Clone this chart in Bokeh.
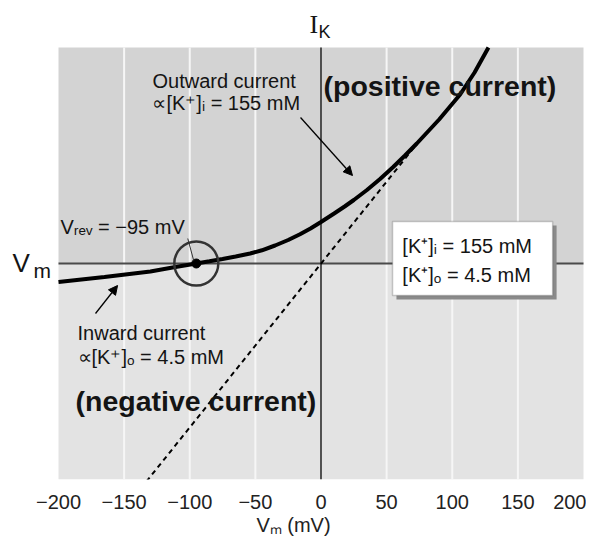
from bokeh.plotting import figure
from bokeh.models import Label, BoxAnnotation, Arrow, NormalHead, FixedTicker
from bokeh.embed import file_html
from bokeh.resources import INLINE

# ---- data ----
curve_v = [-200, -165, -130, -112, -95, -85, -75, -65, -54, -45, -35, -25, -16, -8, 0, 10, 18, 25,
           35, 45, 55, 64, 73, 90, 106, 117, 127.6]
curve_i = [-18.5, -13.5, -8, -3.8, 0, 2.2, 4.5, 7, 10, 13.2, 18, 23.5, 29.3, 35, 41.5, 50, 57, 63.5,
           73.5, 84.5, 96.5, 108, 120, 144, 169, 191, 216]
dashed_v = [-133, 73]
dashed_i = [-218, 119.5]
v_rev = -95
x_ticks = [-200, -150, -100, -50, 0, 50, 100, 150, 200]
x_tick_labels = ["\u2212200", "\u2212150", "\u2212100", "\u221250", "0", "50", "100", "150", "200"]
grid_ticks = [-150, -100, -50, 50, 100, 150]
v_lim = [-200, 200]      # extent of the shaded plot region (mV)
i_lim = [-216, 216]      # extent of the shaded plot region (current, arbitrary units)

FONT = "Liberation Sans"
TXT = "#141414"

p = figure(frame_width=586, frame_height=479, x_range=(-244.19, 202.29), y_range=(-216, 263),
           output_backend="svg", toolbar_location=None, y_axis_location=None,
           min_border_left=0, min_border_right=0, min_border_top=0, min_border_bottom=10)
p.outline_line_color = None
p.background_fill_color = "white"
p.border_fill_color = "white"
p.xgrid.visible = False
p.ygrid.visible = False

# shaded halves
p.add_layout(BoxAnnotation(left=v_lim[0], right=v_lim[1], bottom=0, top=i_lim[1],
                           fill_color="#d3d3d3", fill_alpha=1, line_color=None, level="image"))
p.add_layout(BoxAnnotation(left=v_lim[0], right=v_lim[1], bottom=i_lim[0], top=0,
                           fill_color="#e3e3e3", fill_alpha=1, line_color=None, level="image"))

# white vertical grid lines
p.segment(x0=grid_ticks, y0=[i_lim[0]] * len(grid_ticks), x1=grid_ticks, y1=[i_lim[1]] * len(grid_ticks),
          line_color="#f6f6f6", line_width=2)

# x axis
ax = p.xaxis[0]
ax.ticker = FixedTicker(ticks=x_ticks)
ax.major_label_overrides = {t: l for t, l in zip(x_ticks, x_tick_labels)}
ax.axis_line_color = None
ax.major_tick_line_color = None
ax.minor_tick_line_color = None
ax.major_label_text_font = FONT
ax.major_label_text_font_size = "20px"
ax.major_label_text_color = "#222222"
ax.major_label_standoff = 9
ax.axis_label = "V\u2098 (mV)"
ax.axis_label_text_font = FONT
ax.axis_label_text_font_size = "20px"
ax.axis_label_text_font_style = "normal"
ax.axis_label_text_color = "#222222"
ax.axis_label_standoff = 2

# axis lines (Vm axis and I_K axis)
p.segment(x0=[v_lim[0]], y0=[0], x1=[v_lim[1]], y1=[0], line_color="#4a4a4a", line_width=2)
p.segment(x0=[0], y0=[i_lim[0]], x1=[0], y1=[i_lim[1]], line_color="#222222", line_width=1.5)

# curves
p.line(dashed_v, dashed_i, line_color="black", line_width=2, line_dash="5 4")
p.line(curve_v, curve_i, line_color="black", line_width=4)

# reversal marker
p.scatter([v_rev], [0], size=44, marker="circle", fill_color=None, line_color="#333333", line_width=2.5)
p.scatter([v_rev], [0], size=9, marker="circle", fill_color="black", line_color="black")
p.segment(x0=[-101.5], y0=[25], x1=[-97], y1=[3], line_color="#333333", line_width=1)

# arrows
p.add_layout(Arrow(x_start=-15.6, y_start=146, x_end=24, y_end=88, line_width=1.3,
                   end=NormalHead(size=9, fill_color="black", line_color="black")))
p.add_layout(Arrow(x_start=-171.8, y_start=-50, x_end=-155, y_end=-22, line_width=1.3,
                   end=NormalHead(size=9, fill_color="black", line_color="black")))

# concentration box with shadow
p.add_layout(BoxAnnotation(left=57.5, right=179.5, bottom=-36, top=38, fill_color="#8a8a8a",
                           fill_alpha=1, line_color=None))
p.add_layout(BoxAnnotation(left=54.5, right=176.5, bottom=-32, top=42, fill_color="white",
                           fill_alpha=1, line_color="#555555", line_width=1.5))


def lab(x, y, text, size="20px", font=FONT, style="normal", align="left"):
    p.add_layout(Label(x=x, y=y, text=text, text_font=font, text_font_size=size,
                       text_font_style=style, text_color=TXT, text_baseline="middle",
                       text_align=align))


lab(-128.4, 183, "Outward current")
lab(-128.4, 161, "\u221d[K\u207a]\u1d62 = 155 mM")
lab(1.9, 178, "(positive current)", size="28.5px", style="bold")
lab(-198.5, 37, "V\u1d63\u2091\u1d65 = \u221295 mV")
lab(-185.5, -69, "Inward current")
lab(-185.5, -93, "\u221d[K\u207a]\u2092 = 4.5 mM")
lab(-187, -137, "(negative current)", size="28.5px", style="bold")
lab(62, 18, "[K\u207a]\u1d62 = 155 mM")
lab(62, -11, "[K\u207a]\u2092 = 4.5 mM")

# axis names
lab(-8.8, 239, "I", size="26px", font="Liberation Serif")
lab(-1.9, 232, "K", size="18px")
lab(-235, 1, "V", size="26px")
lab(-219, -7, "m", size="21px")

open("out.html", "w").write(file_html(p, INLINE))
